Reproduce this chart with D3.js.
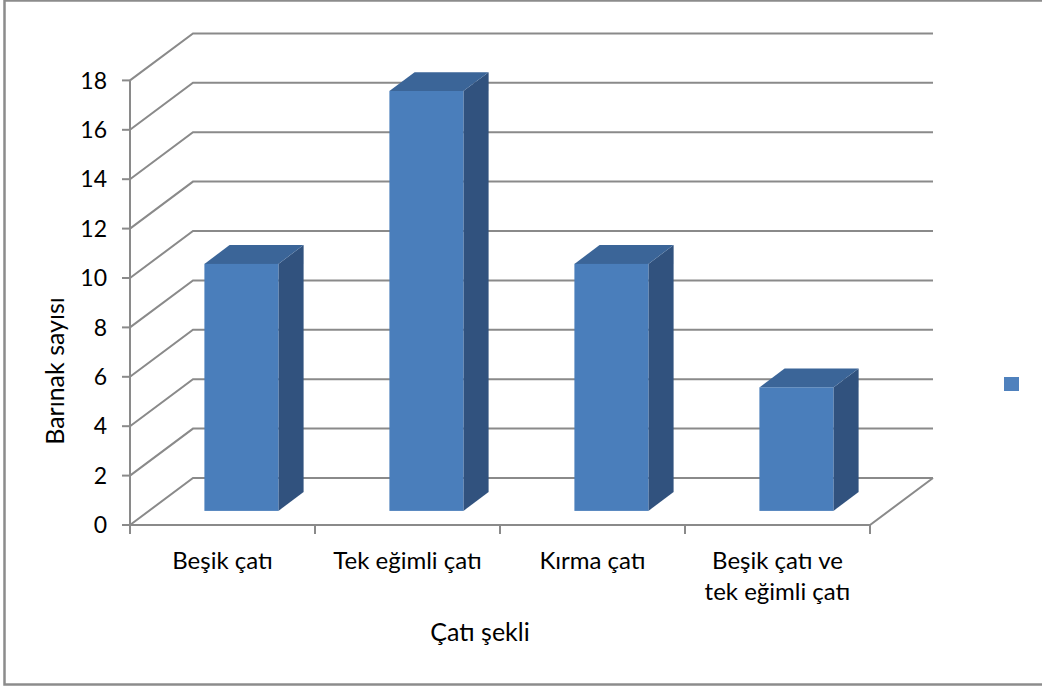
<!DOCTYPE html>
<html>
<head>
<meta charset="utf-8">
<script src="https://cdn.jsdelivr.net/npm/d3@7"></script>
<style>
  html, body { margin: 0; padding: 0; background: #fff; }
  svg { display: block; }
  text { font-family: Lato, "Open Sans", sans-serif; fill: #000; }
</style>
</head>
<body>
<svg id="chart" width="1042" height="691"></svg>
<script>
// Roof shapes of the shelters and how many shelters have each one
const categories = ["Beşik çatı", "Tek eğimli çatı", "Kırma çatı", "Beşik çatı ve\ntek eğimli çatı"];
const shelterCounts = [10, 17, 10, 5];
const yTicks = [0, 2, 4, 6, 8, 10, 12, 14, 16, 18];
const yTitle = "Barınak sayısı";
const xTitle = "Çatı şekli";

const svg = d3.select("#chart");

// Front plane of the 3D plot box
const x = d3.scaleBand().domain(categories).range([130, 870]).paddingInner(0.6).paddingOuter(0.3);
const y = d3.scaleLinear().domain([0, 18]).range([525, 80.4]);
// Depth: 0 = front plane, 1 = back wall
const depthX = d3.scaleLinear().domain([0, 1]).range([0, 63]);
const depthY = d3.scaleLinear().domain([0, 1]).range([0, -47]);
const barFront = 0.3, barBack = 0.7;

const gridColor = "#8a8a8a";
const [x0, x1] = x.range();

// Outer frame
svg.append("rect")
  .attr("x", 4.5).attr("y", 0.5).attr("width", 1060).attr("height", 684)
  .attr("fill", "none").attr("stroke", "#8c8c8c").attr("stroke-width", 2.5);

// Gridlines: along the left wall, then across the back wall
const grid = svg.append("g").attr("fill", "none").attr("stroke", gridColor).attr("stroke-width", 2);
yTicks.forEach(v => {
  const fy = y(v);
  grid.append("path").attr("d", d3.line()([
    [x0, fy],
    [x0 + depthX(1), fy + depthY(1)],
    [x1 + depthX(1), fy + depthY(1)]
  ]));
});
// Floor outline
grid.append("path").attr("d", d3.line()([
  [x0, y(0)], [x1, y(0)], [x1 + depthX(1), y(0) + depthY(1)]
]));

// Vertical axis line and ticks
const axisG = svg.append("g").attr("stroke", gridColor).attr("stroke-width", 2);
axisG.append("line").attr("x1", x0).attr("x2", x0).attr("y1", y(18)).attr("y2", y(0));
yTicks.forEach(v => {
  axisG.append("line").attr("x1", x0 - 8).attr("x2", x0).attr("y1", y(v)).attr("y2", y(v));
});
// Category boundary ticks under the floor
const boundaries = categories.map(c => x(c) - x.step() * x.paddingOuter()).concat([x1]);
boundaries.forEach(bx => {
  axisG.append("line").attr("x1", bx).attr("x2", bx).attr("y1", y(0)).attr("y2", y(0) + 9);
});

// Bars: front, top and right side faces
const bars = svg.append("g");
categories.forEach((c, i) => {
  const v = shelterCounts[i];
  const l = x(c) + depthX(barFront), r = l + x.bandwidth();
  const fdx = depthX(barFront), fdy = depthY(barFront);
  const bdx = depthX(barBack) - fdx, bdy = depthY(barBack) - fdy;
  const top = y(v) + fdy, bot = y(0) + fdy;
  const g = bars.append("g");
  g.append("path").attr("fill", "#31527e")
    .attr("d", d3.line()([[r, top], [r + bdx, top + bdy], [r + bdx, bot + bdy], [r, bot]]) + "Z");
  g.append("path").attr("fill", "#3b6598")
    .attr("d", d3.line()([[l, top], [l + bdx, top + bdy], [r + bdx, top + bdy], [r, top]]) + "Z");
  g.append("rect").attr("fill", "#4a7ebb")
    .attr("x", l).attr("y", top).attr("width", r - l).attr("height", bot - top);
});

// Y tick labels
svg.append("g").selectAll("text").data(yTicks).join("text")
  .attr("x", 107).attr("y", d => y(d)).attr("dy", "0.36em")
  .attr("text-anchor", "end").attr("font-size", 23)
  .text(d => d);

// Category labels
svg.append("g").selectAll("text").data(categories).join("text")
  .attr("x", d => x(d) + x.bandwidth() / 2).attr("y", 569)
  .attr("text-anchor", "middle").attr("font-size", 24)
  .each(function(d) {
    d.split("\n").forEach((line, k) => {
      d3.select(this).append("tspan")
        .attr("x", x(d) + x.bandwidth() / 2).attr("dy", k === 0 ? 0 : 31).text(line);
    });
  });

// Axis titles
svg.append("text").attr("x", 480).attr("y", 641).attr("text-anchor", "middle")
  .attr("font-size", 25).text(xTitle);
svg.append("text").attr("transform", "translate(64,371) rotate(-90)")
  .attr("text-anchor", "middle").attr("font-size", 25).text(yTitle);

// Legend marker (series has no name)
svg.append("rect").attr("x", 1004).attr("y", 377).attr("width", 15).attr("height", 14)
  .attr("fill", "#4f81bd");
</script>
</body>
</html>
